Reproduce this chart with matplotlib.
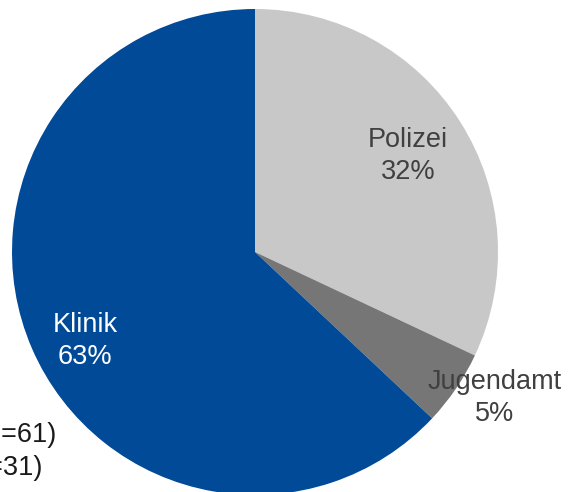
import numpy as np
import matplotlib.pyplot as plt

# ==========================================================
#   Pie: Zuweisung (Klinik / Polizei / Jugendamt)
# ==========================================================

categories = ['Polizei', 'Jugendamt', 'Klinik']
shares = [32, 5, 63]
colors = ['#c8c8c8', '#767676', '#004a98']
text_colors = ['#404040', '#404040', '#ffffff']
label_dist = [0.743, 1.156, 0.79]
label_shift = [-0.3, 2.9, 4.2]   # degrees, counter-clockwise nudge
side_notes = ['(n=61)', '(n=31)']

plt.rcParams['font.family'] = ['Liberation Sans', 'DejaVu Sans']

fig = plt.figure(figsize=(5.68, 4.92), dpi=100)
ax = fig.add_axes([0, 0, 1, 1])

cx, cy, r = 255, 240, 243
wedges, _ = ax.pie(shares, colors=colors, startangle=90, counterclock=False,
                   center=(cx, cy), radius=r, frame=True,
                   wedgeprops=dict(linewidth=0))

for w, cat, val, tc, d, s in zip(wedges, categories, shares, text_colors,
                                 label_dist, label_shift):
    mid = np.deg2rad((w.theta1 + w.theta2) / 2 + s)
    x = cx + d * r * np.cos(mid)
    y = cy + d * r * np.sin(mid)
    ax.text(x, y, f"{cat}\n{val}%", ha='center', va='center',
            fontsize=19.5, color=tc, linespacing=1.28)

# notes cut off at the left edge
ax.text(57, 57, side_notes[0], ha='right', va='center', fontsize=19.5, color='#1a1a1a')
ax.text(43, 24, side_notes[1], ha='right', va='center', fontsize=19.5, color='#1a1a1a')

ax.set_xlim(0, 568)
ax.set_ylim(0, 492)
ax.set_aspect('equal')
ax.axis('off')

fig.savefig('out.png', dpi=100)
